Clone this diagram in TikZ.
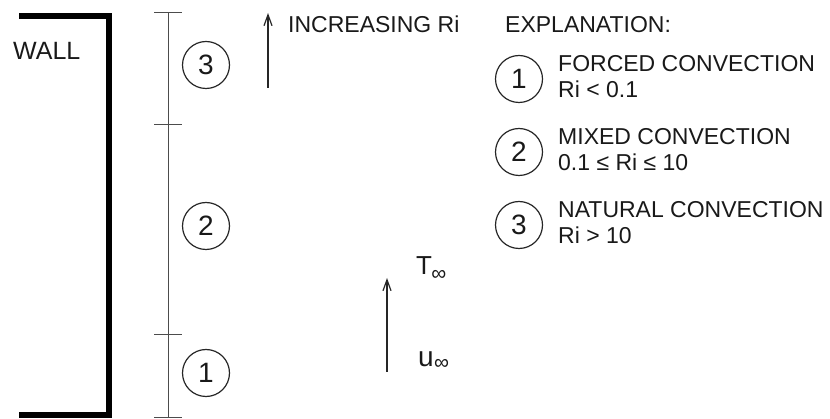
\documentclass[tikz,border=0pt]{standalone}
\usepackage{fontspec}
\setmainfont{Liberation Sans}
\usetikzlibrary{arrows.meta}
\begin{document}
\begin{tikzpicture}[x=1pt,y=-1pt,
  txt/.style={inner sep=0pt,anchor=base west,font=\fontsize{23}{26}\selectfont,text=black!90},
  zone/.style={draw=black!85,line width=1.2pt,circle,minimum size=47pt,inner sep=0pt,
    font=\fontsize{28}{28}\selectfont,text=black!90},
  wall/.style={line width=6pt,black},
  scaleline/.style={draw=black!70,line width=1pt},
  flow/.style={draw=black!85,line width=1.2pt,-{Straight Barb[length=11pt,width=8pt,line width=1.2pt]}},
  subinf/.style={inner sep=0pt,anchor=base west,font=\fontsize{21}{21}\selectfont,text=black!90}]
\useasboundingbox (0,0) rectangle (830,419);

% wall profile
\coordinate (wtl) at (19,16.5);
\coordinate (wtr) at (108.5,16.5);
\coordinate (wbr) at (108.5,415);
\coordinate (wbl) at (19,415);
\draw[wall] (wtl) -- (wtr) -- (wbr) -- (wbl);
\node[txt,font=\fontsize{25}{26}\selectfont] (walllbl) at (13,60) {WALL};

% height scale with zone marks
\coordinate (s0) at (168,13);
\coordinate (s1) at (168,125);
\coordinate (s2) at (168,335);
\coordinate (s3) at (168,418);
\draw[scaleline] (s0) -- (s3);
\foreach \p in {s0,s1,s2,s3}
  \draw[scaleline] ([xshift=-14pt]\p) -- ([xshift=14pt]\p);

\node[zone] (z3) at (206,65) {3};
\node[zone] (z2) at (206,226) {2};
\node[zone] (z1) at (206,373) {1};

% increasing Richardson number
\coordinate (ia) at (268,88);
\coordinate (ib) at (268,13);
\draw[flow] (ia) -- (ib);
\node[txt] (inc) at (288,33) {INCREASING Ri};

% free stream
\coordinate (fa) at (387,372);
\coordinate (fb) at (387,278);
\draw[flow] (fa) -- (fb);
\node[txt,font=\fontsize{26}{26}\selectfont] (tinf) at (416,275) {T};
\node[subinf] at ([xshift=-1pt]tinf.base east) [yshift=-6pt] {∞};
\node[txt,font=\fontsize{28}{26}\selectfont] (uinf) at (418,367) {u};
\node[subinf] at ([xshift=0pt]uinf.base east) [yshift=-3pt] {∞};

% legend
\node[txt] (expl) at (505,33) {EXPLANATION:};
\node[zone] (l1) at (519,79) {1};
\node[txt] (l1a) at (558,72) {FORCED CONVECTION};
\node[txt] (l1b) at (558,98) {Ri < 0.1};
\node[zone] (l2) at (519,152) {2};
\node[txt] (l2a) at (558,145) {MIXED CONVECTION};
\node[txt] (l2b) at (558,171) {0.1 ≤ Ri ≤ 10};
\node[zone] (l3) at (519,225) {3};
\node[txt] (l3a) at (558,218) {NATURAL CONVECTION};
\node[txt] (l3b) at (558,244) {Ri > 10};
\end{tikzpicture}
\end{document}
